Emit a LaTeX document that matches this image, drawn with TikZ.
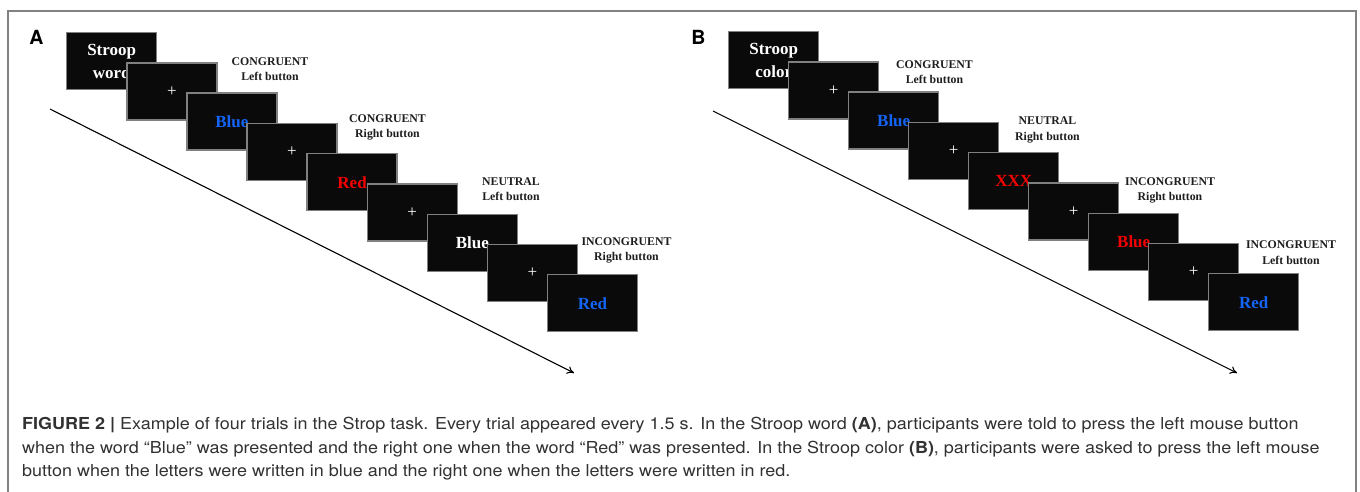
\documentclass[tikz,border=0pt]{standalone}
\usepackage{fontspec}
\setmainfont{Liberation Serif}
\newfontfamily\capfont[FakeStretch=1.09]{TeX Gyre Heros}
\newfontfamily\panelfont{TeX Gyre Heros}
\usetikzlibrary{arrows.meta}
\definecolor{scrblue}{RGB}{20,100,245}
\definecolor{scrred}{RGB}{245,0,0}
\definecolor{lbl}{RGB}{30,30,30}
\definecolor{captxt}{RGB}{50,50,50}
\definecolor{framec}{RGB}{130,130,130}
\tikzset{
  screen/.style={draw=black!50, line width=1.4pt, fill=black!96, minimum width=90pt, minimum height=57pt, inner sep=0pt, anchor=north west, text=white, font=\fontsize{17}{23}\selectfont\bfseries, align=center},
  fix/.style={screen, font=\fontsize{17}{17}\selectfont},
  cond/.style={text=lbl, font=\fontsize{11.8}{15.5}\selectfont\bfseries, align=center, inner sep=0pt},
  panel/.style={font=\panelfont\fontsize{19.5}{20}\selectfont\bfseries, inner sep=0pt},
  capline/.style={anchor=base west, inner sep=0pt, text=captxt, font=\capfont\fontsize{16.5}{18}\selectfont},
  timeline/.style={line width=1.1pt, -{To[length=7pt,width=8pt]}}
}
\begin{document}
\begin{tikzpicture}[x=1pt,y=-1pt]
\useasboundingbox (0,0) rectangle (1360,492);
\fill[white] (0,0) rectangle (1360,492);
% frame
\draw[framec, line width=1.4pt] (8,492) -- (8,11) -- (1356,11) -- (1356,492);
% panel letters
\node[panel] (lA) at (36.5,37) {A};
\node[panel] (lB) at (698.5,37) {B};
% timelines
\coordinate (aS) at (50,109);
\coordinate (aE) at (574,373);
\coordinate (bS) at (713,111);
\coordinate (bE) at (1237,373);
\draw[timeline] (aS) -- (aE);
\draw[timeline] (bS) -- (bE);
% Panel A screens
\node[screen] (a1) at (66,32) {Stroop\\word};
\node[fix] (a2) at (126.1,62.25) {+};
\node[screen, text=scrblue] (a3) at (186.2,92.5) {Blue};
\node[fix] (a4) at (246.3,122.75) {+};
\node[screen, text=scrred] (a5) at (306.4,153) {Red};
\node[fix] (a6) at (366.5,183.25) {+};
\node[screen] (a7) at (426.6,213.5) {Blue};
\node[fix] (a8) at (486.7,243.75) {+};
\node[screen, text=scrblue] (a9) at (546.8,274) {Red};
% Panel A labels
\node[cond] (ca1) at (270,69) {CONGRUENT\\Left button};
\node[cond] (ca2) at (387.5,127.5) {CONGRUENT\\Right button};
\node[cond] (ca3) at (511,189) {NEUTRAL\\Left button};
\node[cond] (ca4) at (626.5,250.5) {INCONGRUENT\\Right button};
% Panel B screens
\node[screen] (b1) at (728,31) {Stroop\\color};
\node[fix] (b2) at (788,61.25) {+};
\node[screen, text=scrblue] (b3) at (848,91.5) {Blue};
\node[fix] (b4) at (908,121.75) {+};
\node[screen, text=scrred] (b5) at (968,152) {XXX};
\node[fix] (b6) at (1028,182.25) {+};
\node[screen, text=scrred] (b7) at (1088,212.5) {Blue};
\node[fix] (b8) at (1148,242.75) {+};
\node[screen, text=scrblue] (b9) at (1208,273) {Red};
% Panel B labels
\node[cond] (cb1) at (934.5,72) {CONGRUENT\\Left button};
\node[cond] (cb2) at (1047.5,130) {NEUTRAL\\Right button};
\node[cond] (cb3) at (1170,190.5) {INCONGRUENT\\Right button};
\node[cond] (cb4) at (1291,252.5) {INCONGRUENT\\Left button};
% caption
\node[capline] (cap1) at (22,429) {\textbf{FIGURE 2 |} Example of four trials in the Strop task. Every trial appeared every 1.5 s. In the Stroop word \textbf{(A)}, participants were told to press the left mouse button};
\node[capline] (cap2) at (22,453) {when the word “Blue” was presented and the right one when the word “Red” was presented. In the Stroop color \textbf{(B)}, participants were asked to press the left mouse};
\node[capline] (cap3) at (22,476) {button when the letters were written in blue and the right one when the letters were written in red.};
\end{tikzpicture}
\end{document}
